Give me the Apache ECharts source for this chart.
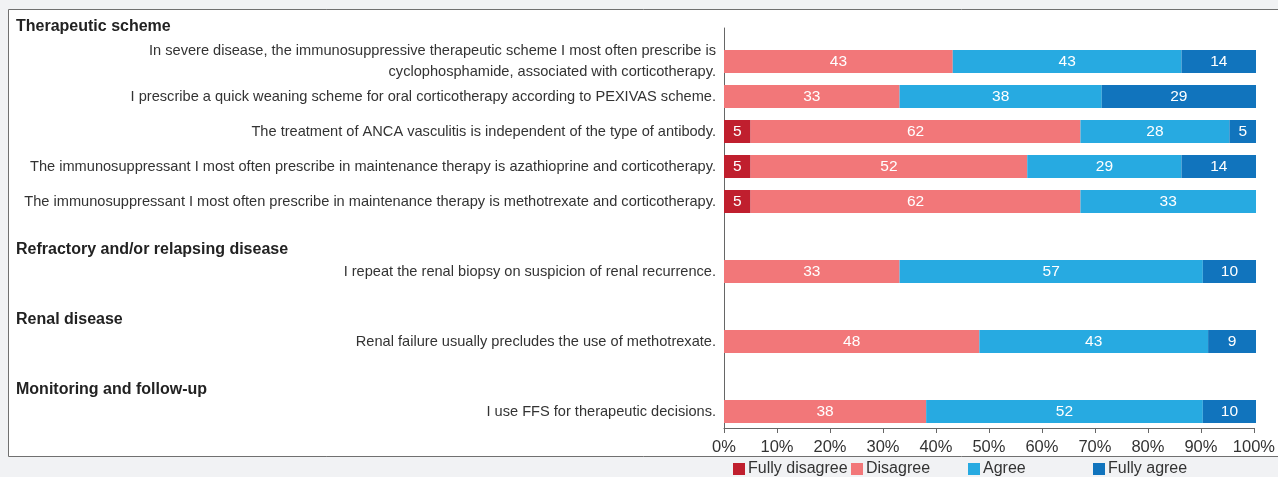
<!DOCTYPE html>
<html>
<head>
<meta charset="utf-8">
<script src="https://cdn.jsdelivr.net/npm/echarts@6/dist/echarts.min.js"></script>
<style>
  html, body { margin: 0; padding: 0; background: #f1f2f4; }
  #chart { width: 1278px; height: 477px; }
</style>
</head>
<body>
<div id="chart"></div>
<script>
// ---- data ----
const categories = [
  'Therapeutic scheme',
  'In severe disease, the immunosuppressive therapeutic scheme I most often prescribe is\ncyclophosphamide, associated with corticotherapy.',
  'I prescribe a quick weaning scheme for oral corticotherapy according to PEXIVAS scheme.',
  'The treatment of ANCA vasculitis is independent of the type of antibody.',
  'The immunosuppressant I most often prescribe in maintenance therapy is azathioprine and corticotherapy.',
  'The immunosuppressant I most often prescribe in maintenance therapy is methotrexate and corticotherapy.',
  'Refractory and/or relapsing disease',
  'I repeat the renal biopsy on suspicion of renal recurrence.',
  'Renal disease',
  'Renal failure usually precludes the use of methotrexate.',
  'Monitoring and follow-up',
  'I use FFS for therapeutic decisions.'
];
const headers = ['Therapeutic scheme', 'Refractory and/or relapsing disease', 'Renal disease', 'Monitoring and follow-up'];
const seriesNames = ['Fully disagree', 'Disagree', 'Agree', 'Fully agree'];
const fullyDisagree = ['-', '-', '-', 5, 5, 5, '-', '-', '-', '-', '-', '-'];
const disagree      = ['-', 43, 33, 62, 52, 62, '-', 33, '-', 48, '-', 38];
const agree         = ['-', 43, 38, 28, 29, 33, '-', 57, '-', 43, '-', 52];
const fullyAgree    = ['-', 14, 29, 5, 14, '-', '-', 10, '-', 9, '-', 10];
const xTicks = [0, 10, 20, 30, 40, 50, 60, 70, 80, 90, 100];

const FONT = '"Liberation Sans", Arial, sans-serif';
const colors = ['#C01F2E', '#F27779', '#27AAE1', '#1174BD'];
const seriesData = [fullyDisagree, disagree, agree, fullyAgree];

const chart = echarts.init(document.getElementById('chart'), null, { renderer: 'canvas' });

const series = seriesNames.map((name, i) => ({
  name: name,
  type: 'bar',
  stack: 'total',
  xAxisIndex: 0,
  yAxisIndex: 0,
  barWidth: 23,
  data: seriesData[i],
  itemStyle: { color: colors[i] },
  label: {
    show: true,
    position: 'inside',
    color: '#ffffff',
    fontSize: 15.5,
    fontFamily: FONT,
    formatter: p => (p.value === '-' || p.value == null) ? '' : String(p.value)
  },
  emphasis: { disabled: true }
}));

const legendLefts = [733, 851, 968, 1093];
const legends = seriesNames.map((name, i) => ({
  data: [name],
  left: legendLefts[i],
  top: 461,
  padding: 0,
  icon: 'rect',
  itemWidth: 12,
  itemHeight: 12,
  itemGap: 0,
  textStyle: { fontSize: 16, color: '#333', fontFamily: FONT, padding: [0, 0, 0, -2] },
  selectedMode: false
}));

chart.setOption({
  animation: false,
  textStyle: { fontFamily: FONT },
  graphic: [{
    type: 'rect',
    z: -10,
    shape: { x: 8.5, y: 9.5, width: 1290, height: 447 },
    style: { fill: '#ffffff', stroke: '#707070', lineWidth: 1 }
  }],
  legend: legends,
  grid: [
    { left: 724, right: 22, top: 9, bottom: 48 },
    { left: 724, right: 22, top: 28, bottom: 49 }
  ],
  xAxis: [
    { gridIndex: 0, type: 'value', min: 0, max: 100, show: false },
    {
      gridIndex: 1, type: 'value', min: 0, max: 100, interval: 10,
      axisLine: { show: true, lineStyle: { color: '#666', width: 1 } },
      axisTick: { show: true, length: 5, lineStyle: { color: '#666' } },
      splitLine: { show: false },
      axisLabel: {
        fontSize: 16.5, color: '#333', margin: 11, fontFamily: FONT,
        formatter: v => xTicks.indexOf(v) >= 0 ? v + '%' : ''
      }
    }
  ],
  yAxis: [
    {
      gridIndex: 0, type: 'category', inverse: true, data: categories,
      axisLine: { show: false }, axisTick: { show: false },
      axisLabel: {
        margin: 8,
        fontSize: 14.6,
        fontFamily: FONT,
        color: '#333',
        lineHeight: 21,
        interval: 0,
        formatter: (v, idx) => {
          if (headers.indexOf(v) >= 0) {
            return idx === 0 ? '{h0|' + v + '}' : '{h|' + v + '}';
          }
          return v;
        },
        rich: {
          h0: { width: 700, align: 'left', fontWeight: 'bold', fontSize: 16, fontFamily: FONT, color: '#222' },
          h: { width: 700, align: 'left', fontWeight: 'bold', fontSize: 16, fontFamily: FONT, color: '#222', padding: [27, 0, 0, 0] }
        }
      }
    },
    {
      gridIndex: 1, type: 'value', min: 0, max: 1,
      axisLine: { show: true, lineStyle: { color: '#666', width: 1 } },
      axisTick: { show: false }, axisLabel: { show: false }, splitLine: { show: false }
    }
  ],
  series: series
});
</script>
</body>
</html>
